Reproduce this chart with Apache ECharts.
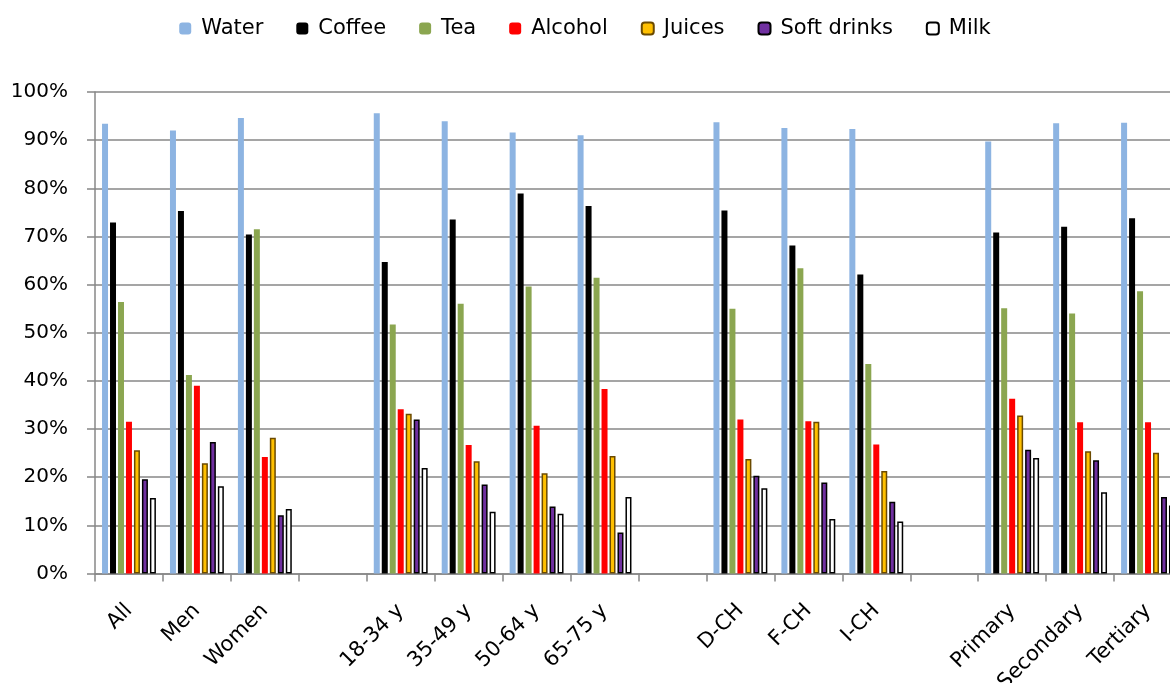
<!DOCTYPE html>
<html>
<head>
<meta charset="utf-8">
<script src="https://cdn.jsdelivr.net/npm/echarts@6/dist/echarts.min.js"></script>
<style>
html,body{margin:0;padding:0;background:#fff;}
#chart{width:1170px;height:683px;}
</style>
</head>
<body>
<div id="chart"></div>
<script>
const categories = ['All','Men','Women',' ','18-34 y','35-49 y','50-64 y','65-75 y','  ','D-CH','F-CH','I-CH','   ','Primary','Secondary','Tertiary'];
const water   = [93.4, 92.0, 94.6, null, 95.6, 93.9, 91.6, 91.0, null, 93.7, 92.5, 92.3, null, 89.7, 93.5, 93.6];
const coffee  = [72.9, 75.3, 70.4, null, 64.7, 73.5, 78.9, 76.3, null, 75.4, 68.1, 62.1, null, 70.8, 72.0, 73.8];
const tea     = [56.4, 41.2, 71.5, null, 51.7, 56.0, 59.6, 61.4, null, 55.0, 63.4, 43.5, null, 55.1, 54.0, 58.6];
const alcohol = [31.5, 39.0, 24.2, null, 34.1, 26.7, 30.7, 38.3, null, 32.0, 31.6, 26.8, null, 36.3, 31.4, 31.4];
const juices  = [25.6, 22.9, 28.2, null, 33.2, 23.3, 20.8, 24.4, null, 23.8, 31.5, 21.3, null, 32.8, 25.4, 25.1];
const softDrinks = [19.6, 27.3, 12.1, null, 32.0, 18.5, 13.9, 8.5, null, 20.3, 18.9, 14.9, null, 25.7, 23.5, 15.9];
const milk    = [15.7, 18.1, 13.4, null, 21.9, 12.8, 12.4, 15.9, null, 17.7, 11.3, 10.8, null, 24.0, 16.9, 14.1];
const seriesNames = ['Water','Coffee','Tea','Alcohol','Juices','Soft drinks','Milk'];

const styles = [
  {color:'#8DB4E2'},
  {color:'#000000'},
  {color:'#8BA650'},
  {color:'#FF0000'},
  {color:'#FFC000', borderColor:'#6B4A00', borderWidth:1.5},
  {color:'#7030A0', borderColor:'#000000', borderWidth:1.5},
  {color:'#FFFFFF', borderColor:'#000000', borderWidth:1.5}
];
const dataSets = [water, coffee, tea, alcohol, juices, softDrinks, milk];
const FONT = 'DejaVu Sans';
const gridColor = '#878787';

const chart = echarts.init(document.getElementById('chart'), null, {renderer:'canvas'});
chart.setOption({
  animation:false,
  backgroundColor:'#fff',
  legend:{
    top:13, left:'center',
    itemWidth:12, itemHeight:12, itemGap:33,
    textStyle:{fontFamily:FONT, fontSize:21, color:'#000', padding:[0,0,0,5]},
    data:seriesNames
  },
  grid:{left:95, width:1087, top:92, height:481.5, containLabel:false, outerBoundsMode:'none'},
  xAxis:{
    type:'category',
    data:categories,
    boundaryGap:true,
    axisLine:{lineStyle:{color:gridColor, width:1.5}},
    axisTick:{show:true, alignWithLabel:false, length:8, lineStyle:{color:gridColor, width:1.5}},
    axisLabel:{rotate:45, interval:0, margin:34, fontFamily:FONT, fontSize:21, color:'#000', hideOverlap:false}
  },
  yAxis:{
    type:'value', min:0, max:100, interval:10,
    axisLine:{show:true, lineStyle:{color:gridColor, width:1.5}},
    axisTick:{show:true, length:8, lineStyle:{color:gridColor, width:1.5}},
    axisLabel:{formatter:'{value}%', margin:27, fontFamily:FONT, fontSize:20, color:'#000'},
    splitLine:{lineStyle:{color:gridColor, width:1.5}}
  },
  series: seriesNames.map((n,i)=>({
    name:n, type:'bar', data:dataSets[i],
    barWidth:6, barGap:'33%',
    itemStyle:styles[i]
  }))
});
</script>
</body>
</html>
